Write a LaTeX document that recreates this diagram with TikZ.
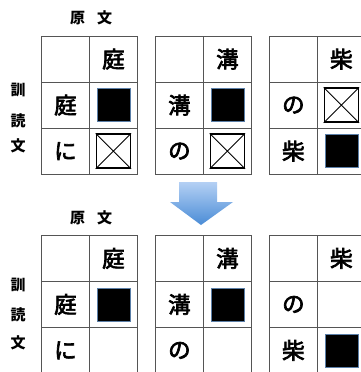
\documentclass[tikz,border=0pt]{standalone}
\usepackage{fontspec}
\newfontfamily\cjk{Noto Sans CJK JP}
\newfontfamily\cjkm[FakeBold=3]{Noto Sans CJK JP}
\definecolor{gridc}{HTML}{555555}
\definecolor{sqedge}{HTML}{5B7FA8}
\definecolor{arrtop}{HTML}{B4D0F4}
\definecolor{arrbot}{HTML}{4A8CD6}
\tikzset{
  cellbox/.style={draw=gridc, line width=0.8pt, minimum width=48pt, minimum height=46pt, inner sep=0pt, anchor=north west, font=\cjkm\fontsize{22.5}{22.5}\selectfont},
  blacksq/.style={fill=black, draw=sqedge, line width=0.5pt, minimum size=33pt, inner sep=0pt},
  crossq/.style={draw=black, line width=1.4pt, minimum size=34pt, inner sep=0pt},
  lbl/.style={font=\cjk\bfseries\fontsize{15}{15}\selectfont, inner sep=0pt}
}
\begin{document}
\begin{tikzpicture}[x=1pt,y=-1pt]
\useasboundingbox (0,0) rectangle (360,372);
% labels
\node[lbl] (gen1) at (91,18) {原\hspace{0.8em}文};
\node[lbl] (k1) at (18,90) {訓};
\node[lbl] (y1) at (18,121) {読};
\node[lbl] (b1) at (18,146) {文};
\node[lbl] (gen2) at (91,218) {原\hspace{0.8em}文};
\node[lbl] (k2) at (18,285) {訓};
\node[lbl] (y2) at (18,315) {読};
\node[lbl] (b2) at (18,343) {文};
% grids
\foreach \g/\gx/\gy/\h/\a/\b in {
  A/41/35.7/庭/庭/に, B/155/35.7/溝/溝/の, C/269/35.7/柴/の/柴,
  D/41/235/庭/庭/に, E/155/235/溝/溝/の, F/269/235/柴/の/柴}{
  \node[cellbox] (\g11) at (\gx,\gy) {};
  \node[cellbox] (\g12) at (\gx+48,\gy) {\h};
  \node[cellbox] (\g21) at (\gx,\gy+46) {\a};
  \node[cellbox] (\g22) at (\gx+48,\gy+46) {};
  \node[cellbox] (\g31) at (\gx,\gy+92) {\b};
  \node[cellbox] (\g32) at (\gx+48,\gy+92) {};
}
% squares top
\node[blacksq] (sqA) at (A22.center) {};
\node[crossq] (xA) at (A32.center) {};
\draw[line width=0.8pt] (xA.north west) -- (xA.south east) (xA.north east) -- (xA.south west);
\node[blacksq] (sqB) at (B22.center) {};
\node[crossq] (xB) at (B32.center) {};
\draw[line width=0.8pt] (xB.north west) -- (xB.south east) (xB.north east) -- (xB.south west);
\node[crossq] (xC) at (C22.center) {};
\draw[line width=0.8pt] (xC.north west) -- (xC.south east) (xC.north east) -- (xC.south west);
\node[blacksq] (sqC) at (C32.center) {};
% squares bottom
\node[blacksq] (sqD) at (D22.center) {};
\node[blacksq] (sqE) at (E22.center) {};
\node[blacksq] (sqF) at (F32.center) {};
% arrow
\shade[top color=arrtop, bottom color=arrbot, draw=none]
  (179,182) -- (217,182) -- (217,202) -- (233,202) -- (201,225) -- (170,202) -- (179,202) -- cycle;
\end{tikzpicture}
\end{document}
